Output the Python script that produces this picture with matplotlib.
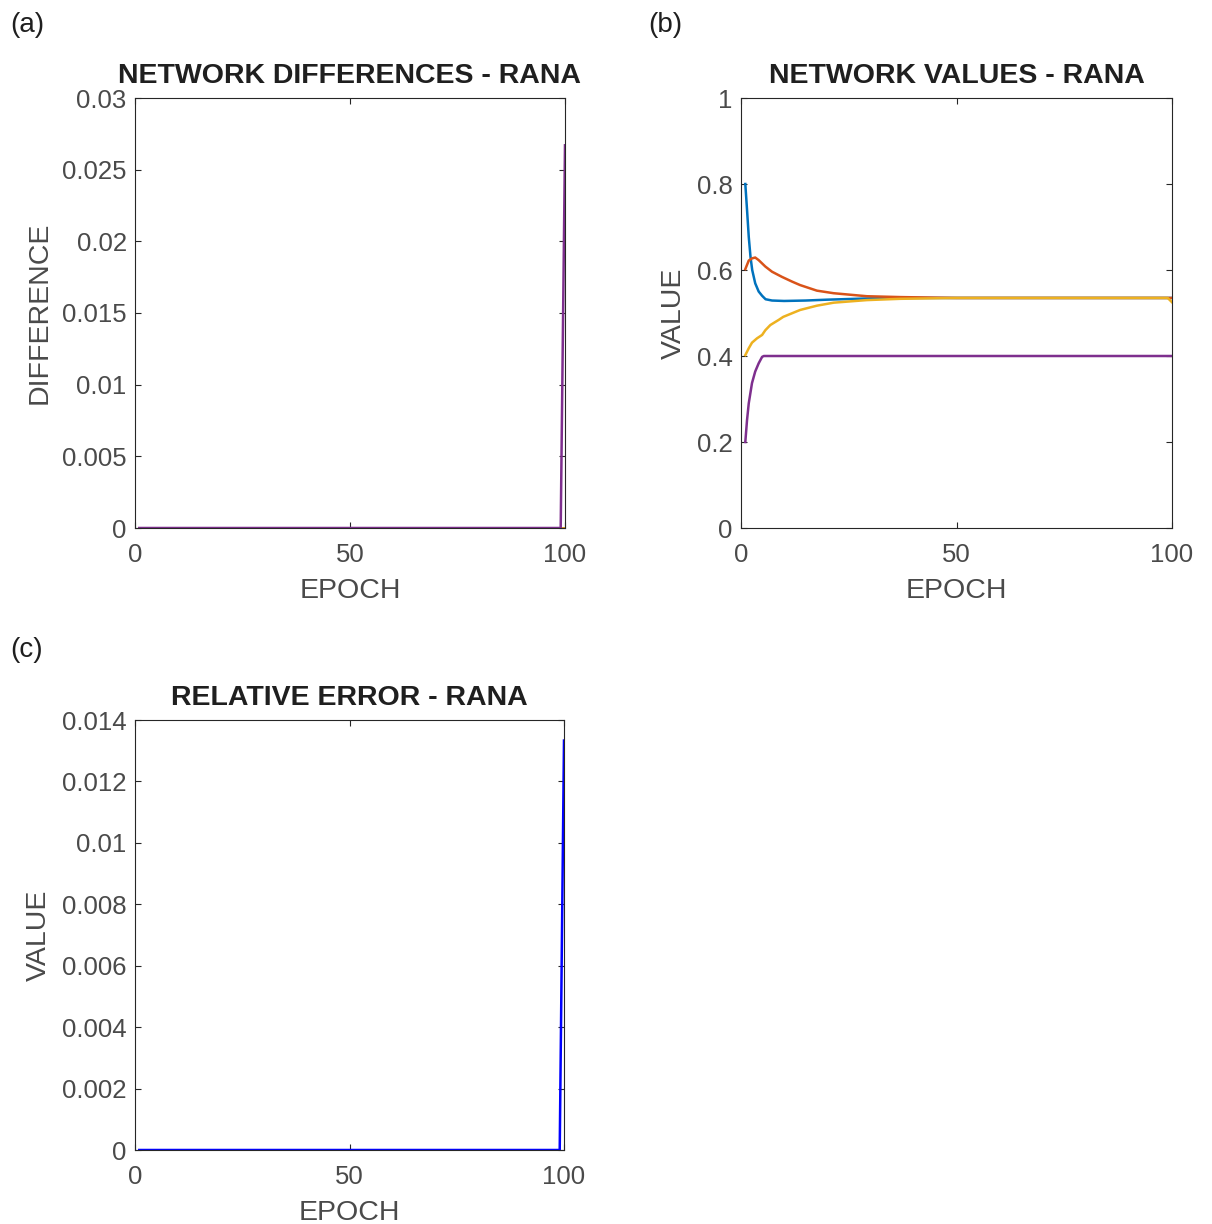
import numpy as np
import matplotlib
matplotlib.use('Agg')
import matplotlib.pyplot as plt
from matplotlib.ticker import FuncFormatter

plt.rcParams['font.family'] = ['Liberation Sans', 'DejaVu Sans']

# matlab default colour order
c_blue, c_orange, c_yellow, c_purple = '#0072BD', '#D95319', '#EDB120', '#7E2F8E'

# (a) network differences: zero until epoch 99, spike at 100
diff_epoch = [1, 99, 100]
diff_blue = [0, 0, 0]
diff_orange = [0, 0, 0]
diff_yellow = [0, 0, 0]
diff_purple = [0, 0, 0.0267]

blue_epoch = [1, 1.4, 1.8, 2.2, 2.6, 3.3, 4.1, 4.9, 5.7, 7.2, 10, 15, 20, 30, 40, 60, 80, 99, 100]
blue_val = [0.80, 0.74, 0.677, 0.631, 0.60, 0.569, 0.55, 0.54, 0.532, 0.529, 0.528, 0.529,
            0.531, 0.534, 0.535, 0.535, 0.535, 0.535, 0.535]

orange_epoch = [1, 1.8, 2.55, 3.3, 4.1, 5.65, 7.2, 9.5, 11.85, 13.7, 17.6, 21.5, 29.2, 37, 50, 70, 99, 100]
orange_val = [0.602, 0.622, 0.627, 0.629, 0.623, 0.608, 0.596, 0.584, 0.573, 0.565, 0.552,
              0.546, 0.539, 0.537, 0.535, 0.535, 0.535, 0.535]

yellow_epoch = [1, 1.8, 2.55, 3.7, 4.9, 5.65, 6.8, 8.75, 9.8, 13.7, 17.6, 21.5, 29.2, 37, 50, 70, 99, 100]
yellow_val = [0.402, 0.418, 0.431, 0.441, 0.449, 0.46, 0.472, 0.484, 0.491, 0.507, 0.517,
              0.524, 0.530, 0.533, 0.535, 0.535, 0.535, 0.525]

purple_epoch = [1, 1.4, 1.8, 2.55, 3.3, 4.1, 4.9, 5.3, 100]
purple_val = [0.2, 0.251, 0.29, 0.337, 0.364, 0.383, 0.398, 0.4, 0.4]

# (c) relative error
err_epoch = [1, 99, 100]
err_val = [0, 0, 0.01333]

W, H = 1212, 1224
fig = plt.figure(figsize=(W / 100, H / 100), dpi=100)


def box(left, top, right, bottom):
    return [left / W, 1 - bottom / H, (right - left) / W, (bottom - top) / H]


txt = '#4a4a4a'
gfmt = FuncFormatter(lambda v, p: '%g' % round(v, 6))


def style(ax, title, ylabel, yticks):
    ax.set_xlim(0, 100)
    ax.set_ylim(yticks[0], yticks[-1])
    ax.set_xticks([0, 50, 100])
    ax.set_yticks(yticks)
    ax.yaxis.set_major_formatter(gfmt)
    ax.tick_params(direction='in', length=4, width=0.8, top=True, right=True,
                   labelsize=18.5, colors='#262626', labelcolor=txt, pad=6)
    ax.tick_params(axis='x', pad=11)
    for s in ax.spines.values():
        s.set_color('#262626')
        s.set_linewidth(0.8)
    ax.set_title(title, fontsize=20.5, fontweight='bold', color='#1f1f1f', pad=11)
    ax.set_xlabel('EPOCH', fontsize=20.5, color=txt, labelpad=8)
    ax.set_ylabel(ylabel, fontsize=20.5, color=txt, labelpad=7)


lw = 1.8

ax1 = fig.add_axes(box(135, 98, 565, 528))
ax1.plot(diff_epoch, diff_blue, color=c_blue, lw=lw)
ax1.plot(diff_epoch, diff_orange, color=c_orange, lw=lw)
ax1.plot(diff_epoch, diff_yellow, color=c_yellow, lw=lw)
ax1.plot(diff_epoch, diff_purple, color=c_purple, lw=lw)
style(ax1, 'NETWORK DIFFERENCES - RANA', 'DIFFERENCE',
      [0, 0.005, 0.01, 0.015, 0.02, 0.025, 0.03])

ax2 = fig.add_axes(box(741, 98, 1172, 528))
ax2.plot(blue_epoch, blue_val, color=c_blue, lw=lw)
ax2.plot(orange_epoch, orange_val, color=c_orange, lw=lw)
ax2.plot(yellow_epoch, yellow_val, color=c_yellow, lw=lw)
ax2.plot(purple_epoch, purple_val, color=c_purple, lw=lw)
style(ax2, 'NETWORK VALUES - RANA', 'VALUE', [0, 0.2, 0.4, 0.6, 0.8, 1])

ax3 = fig.add_axes(box(135, 720, 564, 1150))
ax3.plot(err_epoch, err_val, color='#0000FF', lw=lw)
style(ax3, 'RELATIVE ERROR - RANA', 'VALUE',
      [0, 0.002, 0.004, 0.006, 0.008, 0.01, 0.012, 0.014])

fig.text(10 / W, 1 - 25 / H, '(a)', fontsize=20, va='center', color='#1f1f1f')
fig.text(648 / W, 1 - 25 / H, '(b)', fontsize=20, va='center', color='#1f1f1f')
fig.text(10 / W, 1 - 650 / H, '(c)', fontsize=20, va='center', color='#1f1f1f')

plt.savefig('out.png', dpi=100)
